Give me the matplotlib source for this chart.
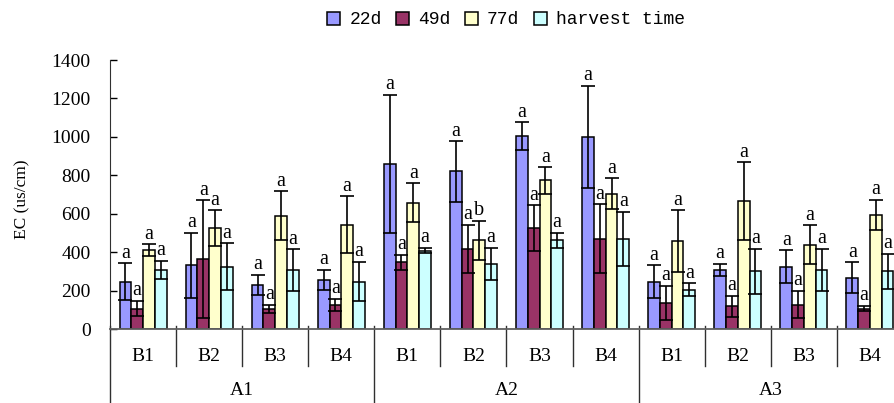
import numpy as np
import matplotlib
matplotlib.use('Agg')
from matplotlib import pyplot as plt
from matplotlib.patches import Patch

outer = ['A1', 'A2', 'A3']
inner = ['B1', 'B2', 'B3', 'B4']
series = ['22d', '49d', '77d', 'harvest time']
colors = ['#9999FF', '#993366', '#FFFFCC', '#CCFFFF']

# means and errors, 12 groups (A1B1 .. A3B4)
d22 = [247, 331, 230, 254, 858, 820, 1005, 999, 246, 307, 324, 268]
d22_err = [95, 171, 52, 53, 359, 157, 71, 265, 85, 33, 85, 79]
d49 = [106, 362, 106, 125, 348, 416, 524, 470, 134, 118, 127, 106]
d49_err = [39, 307, 21, 33, 39, 126, 119, 179, 89, 53, 72, 14]
d77 = [409, 524, 589, 542, 657, 461, 773, 704, 456, 665, 439, 594]
d77_err = [31, 93, 128, 148, 101, 103, 68, 80, 161, 202, 101, 78]
harvest = [307, 324, 307, 246, 408, 340, 461, 470, 205, 300, 307, 300]
harvest_err = [48, 122, 107, 102, 15, 83, 39, 141, 32, 116, 109, 90]

letters_77 = ['a', 'a', 'a', 'a', 'a', 'b', 'a', 'a', 'a', 'a', 'a', 'a']

values = [d22, d49, d77, harvest]
errors = [d22_err, d49_err, d77_err, harvest_err]
letters = [['a'] * 12, ['a'] * 12, letters_77, ['a'] * 12]

SERIF = 'Liberation Serif'
MONO = 'Liberation Mono'

fig = plt.figure(figsize=(8.94, 4.03), dpi=100)
ax = fig.add_axes([110 / 894, 74 / 403, 793 / 894, 269 / 403])

n = len(outer) * len(inner)
x = np.arange(n) + 0.5
w = 0.178
for k, (vals, errs, col) in enumerate(zip(values, errors, colors)):
    pos = x + (k - 1.5) * w
    ax.bar(pos, vals, width=w, color=col, edgecolor='black', linewidth=1.1, zorder=2,
           yerr=errs, error_kw=dict(ecolor='black', elinewidth=1.2, capsize=4.8, capthick=1.2, zorder=3))
    for xi, v, e, lab in zip(pos, vals, errs, letters[k]):
        ax.annotate(lab, (xi, v + e), xytext=(0, 0.5), textcoords='offset points',
                    ha='center', va='bottom', fontsize=14.5, family=SERIF)

ax.set_xlim(0, n)
ax.set_ylim(0, 1400)
ax.set_yticks(range(0, 1401, 200))
ax.tick_params(axis='y', direction='in', length=5, width=1, pad=14, labelsize=14)
for lab in ax.get_yticklabels():
    lab.set_family(SERIF)
ax.set_xticks([])
for s in ['top', 'right']:
    ax.spines[s].set_visible(False)
ax.spines['left'].set_color('#303030')
ax.spines['bottom'].set_color('#606060')
ax.spines['bottom'].set_linewidth(1.3)

trans = ax.get_xaxis_transform()
for i in range(n + 1):
    low = -0.4 if i % len(inner) == 0 else -0.136
    ax.plot([i, i], [0.012, low], transform=trans, color='#303030', lw=1, clip_on=False)
for i in range(n):
    ax.text(i + 0.5, -0.103, inner[i % len(inner)], transform=trans, ha='center', va='center',
            fontsize=14, family=SERIF)
for j, a in enumerate(outer):
    ax.text(j * len(inner) + len(inner) / 2, -0.229, a, transform=trans, ha='center', va='center',
            fontsize=14, family=SERIF)

fig.text(22 / 894, 1 - 199 / 403, 'EC (us/cm)', rotation=90, ha='center', va='center',
         fontsize=12.5, family=SERIF)

handles = [Patch(facecolor=c, edgecolor='black', linewidth=1.1) for c in colors]
fig.legend(handles, series, loc='center', bbox_to_anchor=(506 / 894, 1 - 20 / 403), ncol=4,
           frameon=False, prop={'family': MONO, 'size': 13}, handlelength=0.72, handleheight=0.72,
           handletextpad=0.5, columnspacing=0.8, borderpad=0.2)

fig.savefig('out.png', dpi=100)
